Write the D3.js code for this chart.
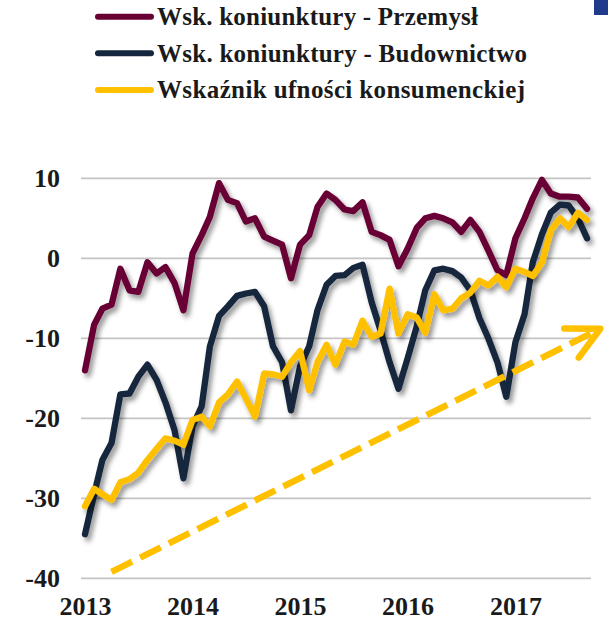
<!DOCTYPE html>
<html>
<head>
<meta charset="utf-8">
<script src="https://cdn.jsdelivr.net/npm/d3@7"></script>
<style>
	html, body { margin: 0; padding: 0; background: #fff; }
	svg { display: block; }
</style>
</head>
<body>
<svg id="chart"></svg>
<script>
// monthly data, Jan 2013 - Sep 2017
const months = d3.timeMonth.range(new Date(2013, 0, 1), new Date(2017, 9, 1));

const przemysl = [-14, -8.3, -6.3, -5.8, -1.3, -4.0, -4.2, -0.5, -1.9, -1.1,
	-3.1, -6.5, 0.6, 2.9, 5.2, 9.4, 7.3, 6.9, 4.6, 5.0,
	2.7, 2.2, 1.7, -2.5, 1.7, 2.9, 6.4, 8.1, 7.3, 6.1,
	5.9, 7.0, 3.3, 2.9, 2.3, -1.0, 1.2, 3.8, 5.0, 5.3,
	5.0, 4.5, 3.3, 4.8, 3.3, 1.0, -1.5, -2.1, 2.5, 5.0,
	7.5, 9.8, 8.1, 7.7, 7.7, 7.6, 6.2];

const budownictwo = [-34.5, -29.5, -25.2, -23.1, -17.0, -16.9, -14.8, -13.3, -15.2, -18.0,
	-21.5, -27.5, -21.0, -18.5, -11.0, -7.2, -6.0, -4.7, -4.4, -4.2,
	-6.0, -11.0, -13.0, -19.0, -13.5, -11.0, -6.5, -3.3, -2.2, -2.1,
	-1.2, -0.8, -5.5, -9.0, -13.0, -16.3, -12.5, -8.5, -4.0, -1.5,
	-1.3, -1.6, -2.4, -4.0, -7.5, -10.0, -13.0, -17.3, -10.5, -7.0,
	-0.5, 3.0, 5.7, 6.7, 6.6, 5.0, 2.5];

const konsumenci = [-31, -28.8, -29.5, -30.2, -28, -27.6, -26.8, -25.2, -23.8, -22.5,
	-22.8, -23.3, -20.2, -19.8, -21, -18, -17, -15.4, -17.5, -19.8,
	-14.4, -14.5, -14.8, -13, -11.6, -16.5, -13, -10.8, -13.3, -10.4,
	-10.8, -7.8, -9.8, -9.4, -3.8, -9.4, -7.0, -7.4, -9.3, -4.5,
	-6.5, -6.3, -5.0, -4.3, -2.8, -3.4, -2.3, -3.6, -1.3, -1.7,
	-2.2, -0.5, 3.5, 5.0, 3.9, 5.7, 4.8];

const seriesNames = ["Wsk. koniunktury - Przemysł", "Wsk. koniunktury - Budownictwo", "Wskaźnik ufności konsumenckiej"];
const seriesColors = ["#680034", "#14263e", "#ffc000"];

const yTicks = [10, 0, -10, -20, -30, -40];
const xTickYears = ["2013", "2014", "2015", "2016", "2017"];

// trend arrow drawn in data units (start / end)
const trendDates = [new Date(2013, 3, 1), new Date(2017, 9, 16)];
const trendValues = [-39.2, -8.8];

const canvasWidth = 608;
const canvasHeight = 622;

let svg = d3.select("#chart")
	.attr("width", canvasWidth)
	.attr("height", canvasHeight)
	.style("font-family", "'Liberation Serif', 'DejaVu Serif', serif")
	.style("font-weight", "bold");

let defs = svg.append("defs");
let shadow = defs.append("filter")
	.attr("id", "shadow")
	.attr("x", "-10%").attr("y", "-10%")
	.attr("width", "120%").attr("height", "130%");
shadow.append("feDropShadow")
	.attr("dx", 3)
	.attr("dy", 4)
	.attr("stdDeviation", 2.4)
	.attr("flood-color", "#000")
	.attr("flood-opacity", 0.42);

let x_scale = d3.scaleTime()
	.domain([months[0], months[months.length - 1]])
	.range([85, 587]);

let y_scale = d3.scaleLinear()
	.domain([-40, 10])
	.range([578.3, 178.3]);

// gridlines
svg.selectAll(".grid")
	.data(yTicks).enter()
	.append("line")
	.attr("class", "grid")
	.attr("x1", 81)
	.attr("x2", 591)
	.attr("y1", d => y_scale(d))
	.attr("y2", d => y_scale(d))
	.attr("stroke", "#c4c4c4")
	.attr("stroke-width", 1.8);

// y axis labels
let y_axis = d3.axisLeft(y_scale)
	.tickValues(yTicks)
	.tickSize(0)
	.tickPadding(21)
	.tickFormat(d => d);
let yg = svg.append("g")
	.attr("transform", "translate(81, 0)")
	.call(y_axis);
yg.select(".domain").remove();
yg.selectAll("text")
	.attr("font-size", 26)
	.attr("font-family", "'Liberation Serif', serif")
	.attr("font-weight", "bold")
	.attr("fill", "#1a1a1a");

// x axis labels
let x_axis = d3.axisBottom(x_scale)
	.tickValues(xTickYears.map(yr => new Date(+yr, 0, 1)))
	.tickSize(0)
	.tickPadding(18)
	.tickFormat(d3.timeFormat("%Y"));
let xg = svg.append("g")
	.attr("transform", "translate(0, 578.3)")
	.call(x_axis);
xg.select(".domain").remove();
xg.selectAll("text")
	.attr("font-size", 26)
	.attr("font-family", "'Liberation Serif', serif")
	.attr("font-weight", "bold")
	.attr("fill", "#1a1a1a");

// series lines
let allSeries = [przemysl, budownictwo, konsumenci];
let line = d3.line()
	.x((d, i) => x_scale(months[i]))
	.y(d => y_scale(d));

svg.selectAll(".series")
	.data(allSeries).enter()
	.append("path")
	.attr("class", "series")
	.attr("fill", "none")
	.attr("stroke", (d, i) => seriesColors[i])
	.attr("stroke-width", 6.3)
	.attr("stroke-linejoin", "round")
	.attr("stroke-linecap", "round")
	.attr("filter", "url(#shadow)")
	.attr("d", d => line(d));

// dashed trend arrow
let ax1 = x_scale(trendDates[0]), ay1 = y_scale(trendValues[0]);
let ax2 = x_scale(trendDates[1]), ay2 = y_scale(trendValues[1]);
svg.append("line")
	.attr("x1", ax1).attr("y1", ay1)
	.attr("x2", ax2).attr("y2", ay2)
	.attr("stroke", "#ffc000")
	.attr("stroke-width", 6.5)
	.attr("stroke-dasharray", "23 9");
let ang = Math.atan2(ay1 - ay2, ax1 - ax2);
let headLen = 36, spread = 0.47;
let head = d3.path();
head.moveTo(ax2 + headLen * Math.cos(ang + spread), ay2 + headLen * Math.sin(ang + spread));
head.lineTo(ax2, ay2);
head.lineTo(ax2 + headLen * Math.cos(ang - spread), ay2 + headLen * Math.sin(ang - spread));
svg.append("path")
	.attr("d", head.toString())
	.attr("fill", "none")
	.attr("stroke", "#ffc000")
	.attr("stroke-width", 6.5)
	.attr("stroke-linecap", "round")
	.attr("stroke-linejoin", "round");

// legend
let legend = svg.selectAll(".legend")
	.data(seriesNames).enter()
	.append("g")
	.attr("class", "legend")
	.attr("transform", (d, i) => "translate(0," + (16.7 + i * 36.6) + ")");
legend.append("line")
	.attr("x1", 98).attr("x2", 151)
	.attr("y1", 0).attr("y2", 0)
	.attr("stroke", (d, i) => seriesColors[i])
	.attr("stroke-width", 6)
	.attr("stroke-linecap", "round");
legend.append("text")
	.attr("x", 157)
	.attr("y", 8.5)
	.attr("font-size", 25)
	.attr("fill", "#1a1a1a")
	.attr("textLength", (d, i) => [321, 370, 368][i])
	.attr("lengthAdjust", "spacing")
	.text(d => d);

// small corner mark
svg.append("rect")
	.attr("x", 594).attr("y", 0)
	.attr("width", 14).attr("height", 15)
	.attr("fill", "#1f3c8c");
</script>
</body>
</html>
